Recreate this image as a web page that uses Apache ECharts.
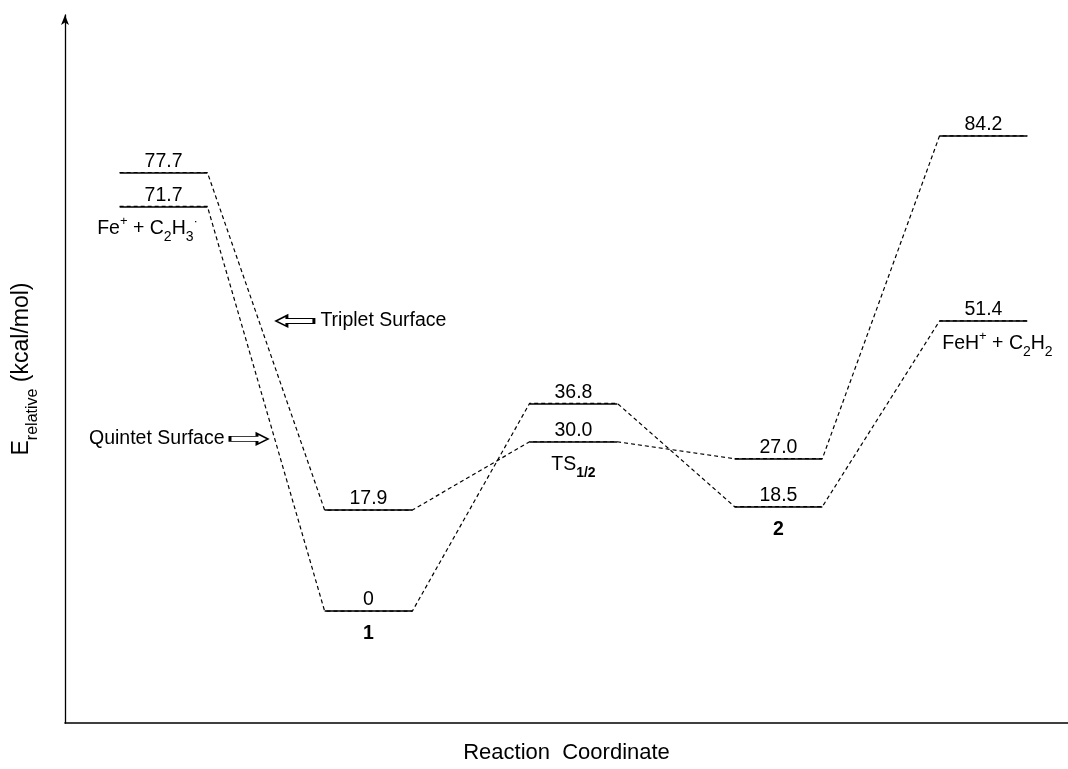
<!DOCTYPE html>
<html>
<head>
<meta charset="utf-8">
<script src="https://cdn.jsdelivr.net/npm/echarts@6/dist/echarts.min.js"></script>
<style>
  html, body { margin: 0; padding: 0; background: #fff; }
  #chart { width: 1068px; height: 769px; }
</style>
</head>
<body>
<div id="chart"></div>
<script>
// Stationary points along the reaction coordinate (kcal/mol)
const stageNames = [
  'Fe{sup|+} + C{sub|2}H{sub|3}{sup|·}',
  '{b|1}',
  'TS{subb|1/2}',
  '{b|2}',
  'FeH{sup|+} + C{sub|2}H{sub|2}'
];
const tripletEnergies = [77.7, 17.9, 30.0, 27.0, 84.2];
const quintetEnergies = [71.7, 0, 36.8, 18.5, 51.4];
const surfaceNames = ['Triplet Surface', 'Quintet Surface'];

const HALF = 0.214;          // half width of a level bar, in stage units
const FONT = 'Liberation Sans, Arial, sans-serif';
const INK = '#000';
const FS = 19.5;

// hollow block arrows used by the surface callouts
const ARROW_LEFT = 'path://M0,5.5 L11,0 L11,3 L38,3 L38,8 L11,8 L11,11 Z';
const ARROW_RIGHT = 'path://M38,5.5 L27,0 L27,3 L0,3 L0,8 L27,8 L27,11 Z';

function levelPath(values) {
  const pts = [];
  values.forEach((v, i) => { pts.push([i - HALF, v], [i + HALF, v]); });
  return pts;
}
function levelSegments(values) {
  return values.map((v, i) => ({ coords: [[i - HALF, v], [i + HALF, v]] }));
}
const fmt = v => (v === 0 ? '0' : v.toFixed(1));

const richStyles = {
  sub: { fontSize: 14, fontFamily: FONT, color: INK, verticalAlign: 'bottom', lineHeight: 23, padding: [0, 0, -4, 0] },
  subb: { fontSize: 14, fontFamily: FONT, color: INK, fontWeight: 'bold', verticalAlign: 'bottom', lineHeight: 23, padding: [0, 0, -4, 0] },
  sup: { fontSize: 13, fontFamily: FONT, color: INK, verticalAlign: 'top', lineHeight: 23, padding: [-2, 0, 0, 0] },
  b: { fontSize: FS, fontFamily: FONT, color: INK, fontWeight: 'bold', lineHeight: 23 }
};

const valueLabels = [];
tripletEnergies.forEach((v, i) => valueLabels.push([i, v]));
quintetEnergies.forEach((v, i) => valueLabels.push([i, v]));

const nameOffsets = { 0: [-16, 0], 4: [14, 0] };
const nameLabels = stageNames.map((n, i) => ({
  value: [i, Math.min(tripletEnergies[i], quintetEnergies[i])],
  name: n,
  label: nameOffsets[i] ? { offset: nameOffsets[i] } : {}
}));

// surface callouts: hollow arrow pointing at each dashed branch, text beside it
const annotations = [
  { value: [0.641, 51.4], name: surfaceNames[0], symbol: ARROW_LEFT, label: { position: 'right', distance: 5 } },
  { value: [0.417, 30.5], name: surfaceNames[1], symbol: ARROW_RIGHT, label: { position: 'left', distance: 4 } }
];

const chart = echarts.init(document.getElementById('chart'), null, { renderer: 'canvas' });

chart.setOption({
  backgroundColor: '#fff',
  animation: false,
  grid: { left: 60, right: 0, top: 15, bottom: 39 },
  xAxis: {
    type: 'value',
    min: -0.4806,
    max: 4.4126,
    name: 'Reaction  Coordinate',
    nameLocation: 'middle',
    nameGap: 19,
    nameTextStyle: { fontFamily: FONT, fontSize: 22, color: INK },
    axisLine: { onZero: false, lineStyle: { color: INK, width: 1.6 } },
    axisTick: { show: false },
    axisLabel: { show: false },
    splitLine: { show: false }
  },
  yAxis: {
    type: 'value',
    min: -19.82,
    max: 105.6,
    name: 'E{sub|relative} (kcal/mol)',
    nameLocation: 'middle',
    nameRotate: 90,
    nameGap: 29,
    nameTextStyle: {
      fontFamily: FONT, fontSize: 23, color: INK, lineHeight: 28,
      rich: {
        sub: { fontFamily: FONT, fontSize: 16, color: INK, verticalAlign: 'bottom', lineHeight: 28, padding: [0, 0, -5, 0] }
      }
    },
    axisLine: { onZero: false, lineStyle: { color: INK, width: 1.3 }, symbol: ['none', 'arrow'], symbolSize: [6, 10] },
    axisTick: { show: false },
    axisLabel: { show: false },
    splitLine: { show: false }
  },
  series: [
    {
      name: surfaceNames[0],
      type: 'line',
      data: levelPath(tripletEnergies),
      symbol: 'none',
      lineStyle: { color: INK, width: 1.2, type: [4, 3] },
      z: 2
    },
    {
      name: surfaceNames[1],
      type: 'line',
      data: levelPath(quintetEnergies),
      symbol: 'none',
      lineStyle: { color: INK, width: 1.2, type: [4, 3] },
      z: 2
    },
    {
      type: 'lines',
      coordinateSystem: 'cartesian2d',
      data: levelSegments(tripletEnergies).concat(levelSegments(quintetEnergies)),
      lineStyle: { color: INK, width: 1.6, type: 'solid', opacity: 1 },
      z: 3
    },
    {
      type: 'scatter',
      data: valueLabels,
      symbolSize: 0,
      itemStyle: { opacity: 1 },
      label: {
        show: true,
        position: 'top',
        distance: 1,
        formatter: p => fmt(p.value[1]),
        fontFamily: FONT,
        fontSize: FS,
        color: INK
      },
      z: 4
    },
    {
      type: 'scatter',
      data: nameLabels,
      symbolSize: 0,
      itemStyle: { opacity: 1 },
      label: {
        show: true,
        position: 'bottom',
        distance: 11,
        formatter: p => p.name,
        fontFamily: FONT,
        fontSize: FS,
        lineHeight: 23,
        color: INK,
        rich: richStyles
      },
      z: 4
    },
    {
      type: 'scatter',
      data: annotations,
      symbolSize: [38, 11],
      itemStyle: { color: '#fff', borderColor: INK, borderWidth: 1.6, opacity: 1 },
      label: {
        show: true,
        formatter: p => p.name,
        fontFamily: FONT,
        fontSize: FS,
        color: INK
      },
      z: 4
    }
  ]
});
</script>
</body>
</html>
